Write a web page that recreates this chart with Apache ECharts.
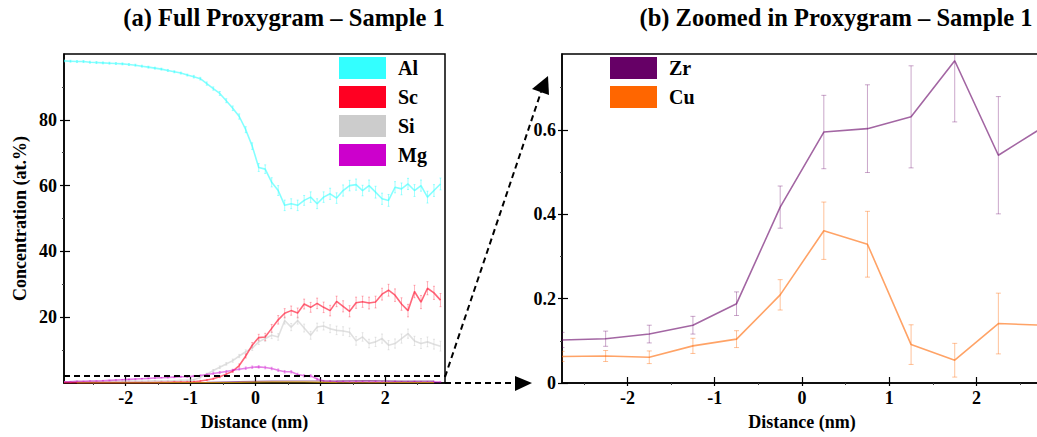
<!DOCTYPE html>
<html>
<head>
<meta charset="utf-8">
<title>Proxygrams – Sample 1</title>
<script src="https://cdn.jsdelivr.net/npm/echarts@6/dist/echarts.min.js"></script>
<style>
  html, body { margin: 0; padding: 0; background: #fff; }
  #chart { width: 1037px; height: 437px; }
</style>
</head>
<body>
<div id="chart"></div>
<script>
// ---- Full proxygram (0.1 nm bins) ----
const distance = [-2.95,-2.85,-2.75,-2.65,-2.55,-2.45,-2.35,-2.25,-2.15,-2.05,
  -1.95,-1.85,-1.75,-1.65,-1.55,-1.45,-1.35,-1.25,-1.15,-1.05,
  -0.95,-0.85,-0.75,-0.65,-0.55,-0.45,-0.35,-0.25,-0.15,-0.05,
  0.05,0.15,0.25,0.35,0.45,0.55,0.65,0.75,0.85,0.95,
  1.05,1.15,1.25,1.35,1.45,1.55,1.65,1.75,1.85,1.95,
  2.05,2.15,2.25,2.35,2.45,2.55,2.65,2.75,2.85];

const al = [97.9,97.8,97.7,97.7,97.5,97.4,97.3,97.2,97.1,97.0,
  96.8,96.6,96.3,96.0,95.7,95.4,95.0,94.6,94.2,93.6,
  93.1,92.5,91.0,89.5,88.0,85.8,83.5,81.0,77.0,72.0,
  65.5,65.0,61.0,58.5,54.0,54.5,54.0,55.5,56.5,54.5,
  56.5,57.5,56.2,58.5,60.0,60.3,58.5,60.0,58.0,56.0,
  55.5,59.5,59.0,60.5,58.5,60.0,56.5,58.5,60.5];
const alErr = [0.3,0.3,0.3,0.3,0.3,0.3,0.3,0.3,0.3,0.3,
  0.3,0.3,0.3,0.3,0.3,0.3,0.3,0.3,0.3,0.3,
  0.4,0.4,0.5,0.5,0.6,0.6,0.7,0.8,0.9,1.0,
  1.2,1.3,1.4,1.5,1.6,1.5,1.6,1.5,1.6,1.5,
  1.6,1.7,1.6,1.7,1.6,1.7,1.6,1.7,1.8,1.7,
  1.8,1.7,1.8,1.7,1.8,1.7,1.8,1.8,1.8];

const sc = [0.1,0.1,0.1,0.1,0.1,0.1,0.1,0.1,0.1,0.1,
  0.1,0.1,0.1,0.1,0.1,0.2,0.2,0.3,0.3,0.3,
  0.4,0.6,0.9,1.3,1.9,2.7,3.6,5.3,8.2,11.5,
  13.8,14.0,16.6,19.2,21.2,22.0,21.3,24.0,23.0,24.2,
  23.0,22.0,24.8,23.3,21.8,24.4,24.7,24.3,24.6,27.0,
  28.2,26.7,24.0,22.0,27.8,24.6,28.8,27.4,25.2];
const scErr = [0.1,0.1,0.1,0.1,0.1,0.1,0.1,0.1,0.1,0.1,
  0.1,0.1,0.1,0.1,0.1,0.1,0.1,0.1,0.1,0.1,
  0.1,0.2,0.2,0.2,0.3,0.3,0.4,0.5,0.6,0.8,
  1.0,1.1,1.2,1.3,1.4,1.4,1.5,1.5,1.5,1.6,
  1.6,1.6,1.6,1.7,1.7,1.7,1.7,1.8,1.8,1.8,
  1.8,1.9,1.9,1.9,1.9,2.0,2.0,2.0,2.0];

const si = [0.4,0.4,0.5,0.4,0.5,0.5,0.4,0.5,0.6,0.5,
  0.6,0.6,0.5,0.6,0.7,0.6,0.7,0.7,0.8,0.8,
  1.0,1.7,2.7,3.8,4.8,5.8,6.8,8.2,9.5,10.6,
  12.5,13.5,14.5,14.0,19.0,17.0,19.0,16.7,14.5,17.0,
  17.3,16.5,16.0,15.8,15.4,12.8,14.0,12.0,12.5,13.5,
  11.5,12.0,13.5,15.0,12.8,12.0,12.5,11.8,11.2];
const siErr = [0.1,0.1,0.1,0.1,0.1,0.1,0.1,0.1,0.1,0.1,
  0.1,0.1,0.1,0.1,0.1,0.1,0.1,0.1,0.1,0.1,
  0.2,0.2,0.3,0.3,0.4,0.4,0.5,0.5,0.6,0.7,
  0.8,0.9,1.0,1.0,1.1,1.1,1.1,1.2,1.2,1.2,
  1.2,1.2,1.3,1.3,1.3,1.3,1.3,1.3,1.4,1.4,
  1.4,1.4,1.4,1.4,1.4,1.5,1.5,1.5,1.5];

const mg = [0.4,0.4,0.5,0.5,0.6,0.6,0.7,0.8,0.9,1.0,
  1.1,1.2,1.3,1.4,1.5,1.6,1.7,1.8,1.9,1.9,
  2.1,2.3,2.6,2.9,3.2,3.5,3.9,4.2,4.5,4.8,
  4.9,4.7,4.4,3.9,3.4,3.4,2.6,2.2,2.2,1.2,
  0.6,0.5,0.4,0.4,0.3,0.4,0.4,0.3,0.4,0.3,
  0.3,0.4,0.3,0.3,0.4,0.3,0.3,0.4,0.3];
const mgErr = [0.1,0.1,0.1,0.1,0.1,0.1,0.1,0.1,0.1,0.1,
  0.1,0.1,0.1,0.1,0.1,0.1,0.2,0.2,0.2,0.2,
  0.2,0.2,0.2,0.3,0.3,0.3,0.3,0.3,0.4,0.4,
  0.4,0.4,0.4,0.4,0.4,0.4,0.4,0.4,0.4,0.3,
  0.2,0.2,0.2,0.2,0.2,0.2,0.2,0.2,0.2,0.2,
  0.2,0.2,0.2,0.2,0.2,0.2,0.2,0.2,0.2];

// ---- Zoomed proxygram (0.5 nm bins) ----
const coarseDistance = [-2.75,-2.25,-1.75,-1.25,-0.75,-0.25,0.25,0.75,1.25,1.75,2.25,2.75];
const zr    = [0.102,0.105,0.116,0.137,0.188,0.417,0.595,0.603,0.631,0.764,0.540,0.605];
const zrErr = [0.018,0.018,0.021,0.021,0.028,0.050,0.087,0.104,0.121,0.145,0.139,0.120];
const cu    = [0.063,0.064,0.061,0.088,0.104,0.209,0.361,0.329,0.091,0.054,0.141,0.137];
const cuErr = [0.012,0.013,0.015,0.018,0.020,0.036,0.068,0.078,0.047,0.040,0.072,0.070];

// ---- Axis ticks ----
const xMajor = [-2, -1, 0, 1, 2];
const xMinor = [-2.5, -1.5, -0.5, 0.5, 1.5, 2.5];
const yMajorFull = [20, 40, 60, 80];
const yMinorFull = [10, 30, 50, 70, 90];
const yMajorZoom = [0, 0.2, 0.4, 0.6];
const yMinorZoom = [0.1, 0.3, 0.5, 0.7];

const FONT = 'Liberation Serif';
const BLACK = '#000';

const legendFull = [
  { name: 'Al', color: '#33ffff' },
  { name: 'Sc', color: '#ff0022' },
  { name: 'Si', color: '#cccccc' },
  { name: 'Mg', color: '#cc00cc' }
];
const legendZoom = [
  { name: 'Zr', color: '#660066' },
  { name: 'Cu', color: '#ff6600' }
];

function pairs(xs, ys) { return xs.map((x, i) => [x, ys[i]]); }
function bars(xs, ys, es) { return xs.map((x, i) => [x, ys[i] - es[i], ys[i] + es[i]]); }

const labelStyle = { fontFamily: FONT, fontWeight: 'bold', fontSize: 18, color: BLACK };
const nameStyle  = { fontFamily: FONT, fontWeight: 'bold', fontSize: 18, color: BLACK };
const tickLine = { color: BLACK, width: 1.2 };

// three stacked axes per side: labelled main axis (outer ticks),
// an inner tick overlay and a minor-tick axis
function xAxesFor(grid, min, max) {
  return [
    { type: 'value', gridIndex: grid, min, max, position: 'bottom',
      name: 'Distance (nm)', nameLocation: 'middle', nameGap: 30, nameTextStyle: nameStyle,
      axisLine: { show: true, onZero: false, lineStyle: { color: BLACK, width: 1.5 } },
      axisTick: { show: true, inside: false, length: 3, customValues: xMajor, lineStyle: tickLine },
      axisLabel: Object.assign({ customValues: xMajor, margin: 6 }, labelStyle),
      splitLine: { show: false } },
    { type: 'value', gridIndex: grid, min, max, position: 'bottom',
      axisLine: { show: false, onZero: false },
      axisTick: { show: true, inside: true, length: 6, customValues: xMajor, lineStyle: tickLine },
      axisLabel: { show: false }, splitLine: { show: false } },
    { type: 'value', gridIndex: grid, min, max, position: 'bottom',
      axisLine: { show: false, onZero: false },
      axisTick: { show: true, inside: false, length: 2, customValues: xMinor, lineStyle: { color: '#444', width: 1 } },
      axisLabel: { show: false }, splitLine: { show: false } }
  ];
}
function yAxesFor(grid, min, max, major, minor, name, margin) {
  const main = { type: 'value', gridIndex: grid, min, max, position: 'left',
    axisLine: { show: true, onZero: false, lineStyle: { color: BLACK, width: 1.5 } },
    axisTick: { show: true, inside: false, length: 4, customValues: major, lineStyle: tickLine },
    axisLabel: Object.assign({ customValues: major, margin: margin }, labelStyle),
    splitLine: { show: false } };
  if (name) {
    Object.assign(main, { name, nameLocation: 'middle', nameGap: 35, nameRotate: 90, nameTextStyle: nameStyle });
  }
  return [
    main,
    { type: 'value', gridIndex: grid, min, max, position: 'left',
      axisLine: { show: false, onZero: false },
      axisTick: { show: true, inside: true, length: 6, customValues: major, lineStyle: tickLine },
      axisLabel: { show: false }, splitLine: { show: false } },
    { type: 'value', gridIndex: grid, min, max, position: 'left',
      axisLine: { show: false, onZero: false },
      axisTick: { show: true, inside: false, length: 2, customValues: minor, lineStyle: { color: '#444', width: 1 } },
      axisLabel: { show: false }, splitLine: { show: false } }
  ];
}

function errorBars(name, data, color, cap, xi, yi) {
  return {
    type: 'custom', name, xAxisIndex: xi, yAxisIndex: yi, clip: true, silent: true, z: 1,
    data, encode: { x: 0, y: [1, 2] },
    renderItem: function (params, api) {
      const x = api.value(0);
      const top = api.coord([x, api.value(2)]);
      const bot = api.coord([x, api.value(1)]);
      const st = { stroke: color, lineWidth: 1, fill: null };
      const children = [
        { type: 'line', shape: { x1: top[0], y1: top[1], x2: bot[0], y2: bot[1] }, style: st }
      ];
      if (cap > 0) {
        children.push({ type: 'line', shape: { x1: top[0] - cap, y1: top[1], x2: top[0] + cap, y2: top[1] }, style: st });
        children.push({ type: 'line', shape: { x1: bot[0] - cap, y1: bot[1], x2: bot[0] + cap, y2: bot[1] }, style: st });
      }
      return { type: 'group', children };
    }
  };
}

function lineSeries(name, data, color, width, xi, yi, extra) {
  return Object.assign({
    type: 'line', name, data, xAxisIndex: xi, yAxisIndex: yi,
    showSymbol: false, symbol: 'none', clip: true, z: 2, silent: true,
    color: color,
    lineStyle: { color: color, width: width }
  }, extra || {});
}

const series = [
  // full proxygram
  errorBars('Al', bars(distance, al, alErr), 'rgba(51,255,255,0.45)', 1, 0, 0),
  errorBars('Sc', bars(distance, sc, scErr), 'rgba(255,0,34,0.3)', 1, 0, 0),
  errorBars('Si', bars(distance, si, siErr), 'rgba(180,180,180,0.3)', 1, 0, 0),
  errorBars('Mg', bars(distance, mg, mgErr), 'rgba(204,0,204,0.3)', 1, 0, 0),
  lineSeries('Al', pairs(distance, al), 'rgba(51,255,255,0.6)', 1.6, 0, 0),
  lineSeries('Si', pairs(distance, si), 'rgba(204,204,204,0.6)', 1.6, 0, 0),
  lineSeries('Sc', pairs(distance, sc), 'rgba(255,0,34,0.6)', 1.6, 0, 0),
  lineSeries('Mg', pairs(distance, mg), 'rgba(204,0,204,0.5)', 1.6, 0, 0, {
    markLine: {
      silent: true, symbol: 'none', label: { show: false },
      lineStyle: { color: BLACK, type: [6, 4], width: 2 },
      data: [{ yAxis: 2.1 }]
    }
  }),
  lineSeries('Zr', pairs(coarseDistance, zr), 'rgba(102,0,102,0.6)', 1.2, 0, 0),
  lineSeries('Cu', pairs(coarseDistance, cu), 'rgba(230,170,0,0.7)', 1.2, 0, 0),
  // zoomed proxygram
  errorBars('Zr', bars(coarseDistance, zr, zrErr), 'rgba(102,0,102,0.35)', 2.5, 3, 3),
  errorBars('Cu', bars(coarseDistance, cu, cuErr), 'rgba(255,102,0,0.4)', 2.5, 3, 3),
  lineSeries('Zr', pairs(coarseDistance, zr), 'rgba(102,0,102,0.6)', 1.6, 3, 3),
  lineSeries('Cu', pairs(coarseDistance, cu), 'rgba(255,102,0,0.6)', 1.6, 3, 3)
];

function legendFor(items, left) {
  return {
    orient: 'vertical', left: left, top: 57, padding: 0,
    itemWidth: 47, itemHeight: 22, itemGap: 7, icon: 'rect',
    selectedMode: false,
    textStyle: { fontFamily: FONT, fontWeight: 'bold', fontSize: 20, color: BLACK, padding: [0, 0, 0, 7] },
    data: items.map(it => ({ name: it.name, icon: 'rect', itemStyle: { color: it.color, borderWidth: 0, opacity: 1 } }))
  };
}

const chart = echarts.init(document.getElementById('chart'), null, { renderer: 'svg' });
chart.setOption({
  animation: false,
  backgroundColor: '#fff',
  grid: [
    { left: 64, top: 54, width: 381, height: 329, outerBoundsMode: 'none', containLabel: false,
      show: true, borderColor: BLACK, borderWidth: 1.5, backgroundColor: 'transparent' },
    // panel (b) runs past the right edge of the page
    { left: 562, top: 54, width: 480, height: 329, outerBoundsMode: 'none', containLabel: false,
      show: true, borderColor: BLACK, borderWidth: 1.5, backgroundColor: 'transparent' }
  ],
  xAxis: xAxesFor(0, -2.95, 2.92).concat(xAxesFor(1, -2.75, 2.75)),
  yAxis: yAxesFor(0, 0, 100, yMajorFull, yMinorFull, 'Concentration (at.%)', 7)
    .concat(yAxesFor(1, 0, 0.78, yMajorZoom, yMinorZoom, null, 6)),
  legend: [legendFor(legendFull, 339), legendFor(legendZoom, 610)],
  series: series,
  graphic: [
    { type: 'text', x: 284, y: 5, silent: true,
      style: { text: '(a) Full Proxygram – Sample 1', fontFamily: FONT, fontWeight: 'bold', fontSize: 24.5, fill: BLACK, align: 'center', verticalAlign: 'top' } },
    { type: 'text', x: 836, y: 5, silent: true,
      style: { text: '(b) Zoomed in Proxygram – Sample 1', fontFamily: FONT, fontWeight: 'bold', fontSize: 24.5, fill: BLACK, align: 'center', verticalAlign: 'top' } },
    // pointers from the zoom window to panel (b)
    { type: 'line', silent: true, shape: { x1: 445, y1: 377, x2: 541, y2: 92 },
      style: { stroke: BLACK, lineWidth: 2, lineDash: [6, 4] } },
    { type: 'polygon', silent: true, shape: { points: [[548, 76], [532, 89], [549, 95]] },
      style: { fill: BLACK } },
    { type: 'line', silent: true, shape: { x1: 445, y1: 383, x2: 515, y2: 383 },
      style: { stroke: BLACK, lineWidth: 2, lineDash: [6, 4] } },
    { type: 'polygon', silent: true, shape: { points: [[515, 376], [532, 383], [515, 391]] },
      style: { fill: BLACK } }
  ]
});
</script>
</body>
</html>
